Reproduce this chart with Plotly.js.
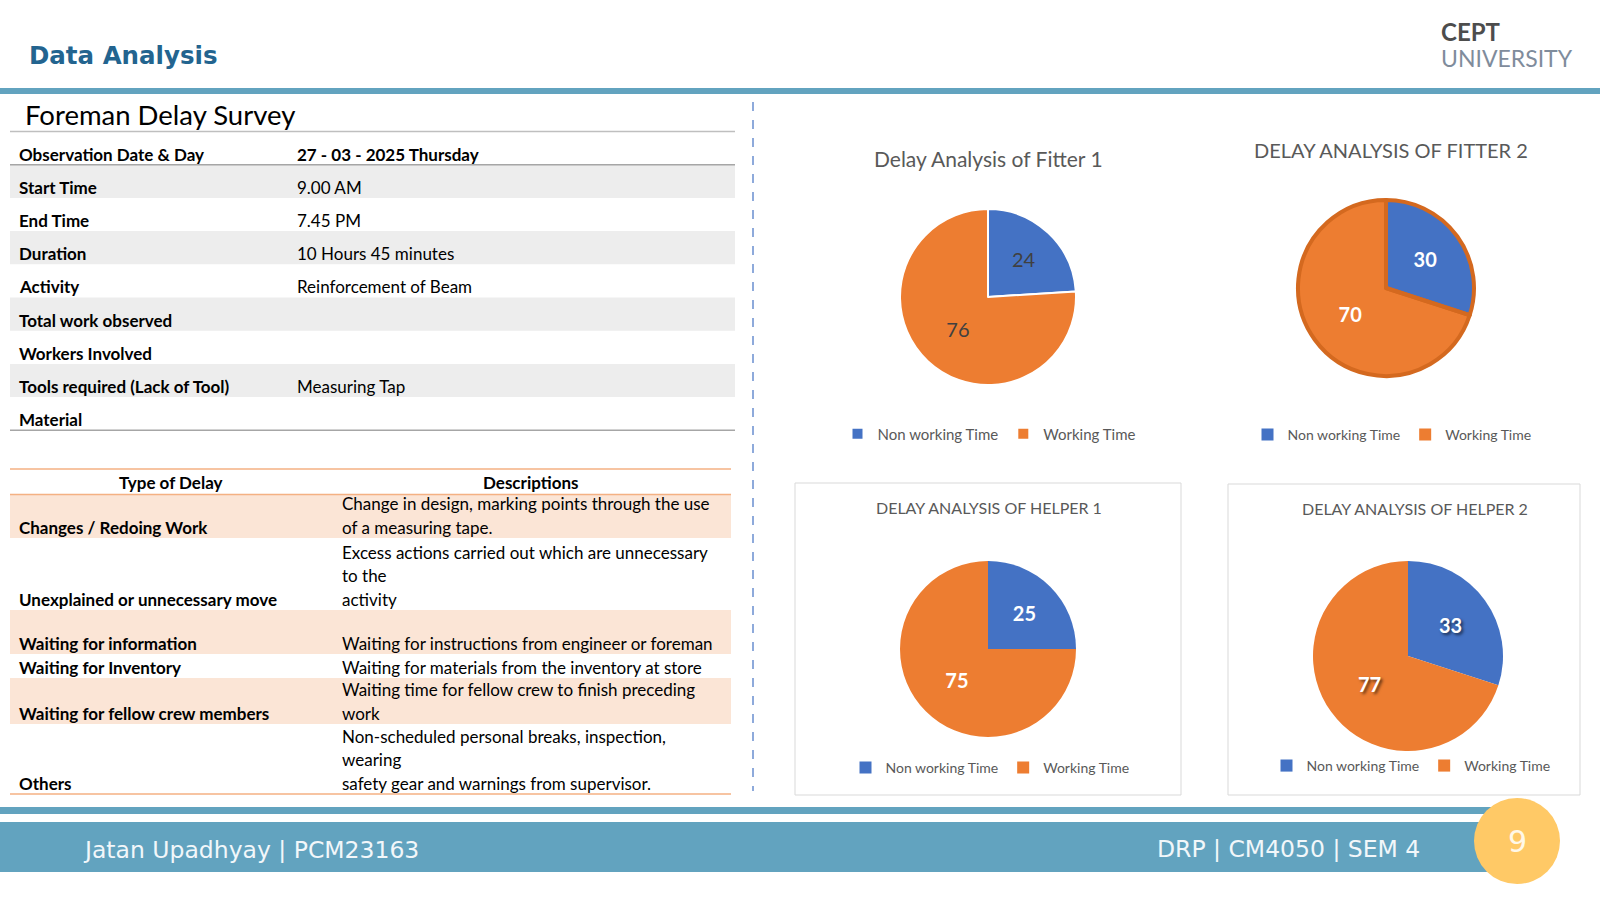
<!DOCTYPE html>
<html><head><meta charset="utf-8">
<script src="https://cdn.plot.ly/plotly-3.0.1.min.js"></script>
<style>html,body{margin:0;padding:0;background:#fff;overflow:hidden}#chart{width:1600px;height:900px}</style>
</head><body><div id="chart"></div>
<script>
// ---------- DATA ----------
const pieLabels = ['Non working Time', 'Working Time'];
const fitter1Values = [24, 76];
const fitter2Values = [30, 70];
const helper1Values = [25, 75];
const helper2Values = [33, 77];
const pieTitles = ['Delay Analysis of Fitter 1', 'DELAY ANALYSIS OF FITTER 2', 'DELAY ANALYSIS OF HELPER 1', 'DELAY ANALYSIS OF HELPER 2'];

const surveyFields = ['Observation Date & Day', 'Start Time', 'End Time', 'Duration', 'Activity', 'Total work observed', 'Workers Involved', 'Tools required (Lack of Tool)', 'Material'];
const surveyValues = ['27 - 03 - 2025 Thursday', '9.00 AM', '7.45 PM', '10 Hours 45 minutes', 'Reinforcement of Beam', '', '', 'Measuring Tap', ''];

const delayHeaders = ['Type of Delay', 'Descriptions'];
const delayTypes = ['Changes / Redoing Work', 'Unexplained or unnecessary move', 'Waiting for information', 'Waiting for Inventory', 'Waiting for fellow crew members', 'Others'];
const delayDescriptions = [
  ['Change in design, marking points through the use', 'of a measuring tape.'],
  ['Excess actions carried out which are unnecessary', 'to the', 'activity'],
  ['Waiting for instructions from engineer or foreman'],
  ['Waiting for materials from the inventory at store'],
  ['Waiting time for fellow crew to finish preceding', 'work'],
  ['Non-scheduled personal breaks, inspection,', 'wearing', 'safety gear and warnings from supervisor.']
];

const slideTitle = 'Data Analysis';
const sectionTitle = 'Foreman Delay Survey';
const logoTop = 'CEPT';
const logoBottom = 'UNIVERSITY';
const footerLeft = 'Jatan Upadhyay | PCM23163';
const footerRight = 'DRP | CM4050 | SEM 4';
const pageNumber = '9';

// ---------- LAYOUT HELPERS ----------
const W = 1600, H = 900;
const X = x => x / W, Y = y => 1 - y / H;
const shapes = [], annotations = [];
const FONT = 'Lato, Carlito, "Liberation Sans", sans-serif';
const SANS = '"DejaVu Sans", Verdana, sans-serif';
function txt(x, y, text, font, opts) {
  annotations.push(Object.assign({xref: 'paper', yref: 'paper', x: X(x), y: Y(y), text: text, showarrow: false,
    xanchor: 'left', yanchor: 'middle', borderpad: 0, font: Object.assign({family: FONT, size: 17, color: '#000'}, font || {})}, opts || {}));
}
function rect(x0, y0, x1, y1, fill, line) {
  shapes.push({type: 'rect', xref: 'paper', yref: 'paper', x0: X(x0), x1: X(x1), y0: Y(y1), y1: Y(y0),
    fillcolor: fill, line: line || {width: 0}, layer: 'below'});
}
function line(x0, y0, x1, y1, color, width, dash) {
  shapes.push({type: 'line', xref: 'paper', yref: 'paper', x0: X(x0), x1: X(x1), y0: Y(y0), y1: Y(y1),
    line: {color: color, width: width, dash: dash || 'solid'}, layer: 'below'});
}

// ---------- HEADER ----------
txt(28, 56, '<b>' + slideTitle + '</b>', {family: SANS, size: 24.5, color: '#23648F'});
rect(0, 88, 1600, 94, '#62A3BF');
txt(1440, 31.5, '<b>' + logoTop + '</b>', {family: FONT, size: 24, color: '#4D4D4D'});
txt(1440, 58.5, logoBottom, {family: FONT, size: 23, color: '#7F8C9C'});

// ---------- SURVEY TABLE ----------
txt(24, 114, sectionTitle, {size: 27.5, color: '#000'});
const t1Top = 131.5, t1Row = 33.2, t1Left = 10, t1Right = 735;
surveyFields.forEach((f, i) => {
  const top = t1Top + i * t1Row;
  if (i % 2 === 1) rect(t1Left, top, t1Right, top + t1Row, '#EDEDED');
  txt(18, top + 22.5, '<b>' + f + '</b>');
  if (surveyValues[i]) txt(296, top + 22.5, i === 0 ? '<b>' + surveyValues[i] + '</b>' : surveyValues[i]);
});
line(t1Left, t1Top, t1Right, t1Top, '#BFBFBF', 1.5);
line(t1Left, t1Top + t1Row, t1Right, t1Top + t1Row, '#A6A6A6', 1.5);
line(t1Left, t1Top + 9 * t1Row, t1Right, t1Top + 9 * t1Row, '#A6A6A6', 1.5);

// ---------- DELAY TYPES TABLE ----------
const t2Left = 10, t2Right = 731;
const t2Rows = [[495, 538], [538, 610], [610, 654], [654, 678], [678, 724], [724, 794]];
t2Rows.forEach((r, i) => { if (i % 2 === 0) rect(t2Left, r[0], t2Right, r[1], '#FBE5D6'); });
line(t2Left, 469, t2Right, 469, '#F4B183', 1.5);
line(t2Left, 494.5, t2Right, 494.5, '#F4B183', 1.5);
line(t2Left, 794, t2Right, 794, '#F4B183', 1.5);
txt(171, 482, '<b>' + delayHeaders[0] + '</b>', {}, {xanchor: 'center'});
txt(531, 482, '<b>' + delayHeaders[1] + '</b>', {}, {xanchor: 'center'});
delayTypes.forEach((d, i) => {
  const base = t2Rows[i][1] - 10.5;
  txt(18, base, '<b>' + d + '</b>');
  const lines = delayDescriptions[i];
  lines.forEach((l, j) => txt(341, base - (lines.length - 1 - j) * 23.6, l));
});

// divider
line(753, 102, 753, 791, '#4472C4', 1.2, 'dash');

// ---------- HELPER BOXES ----------
rect(795, 483, 1181, 795, '#FFFFFF', {color: '#D9D9D9', width: 1});
rect(1228, 484, 1580, 795, '#FFFFFF', {color: '#D9D9D9', width: 1});

// ---------- PIES ----------
const pieGeom = [
  {cx: 988, cy: 297, r: 88}, {cx: 1386, cy: 288, r: 88},
  {cx: 988, cy: 649, r: 88}, {cx: 1408, cy: 656, r: 95}
];
const pieValues = [fitter1Values, fitter2Values, helper1Values, helper2Values];
const legendNames = ['legend', 'legend2', 'legend3', 'legend4'];
const textStyles = [
  {family: FONT, size: 20, color: '#404040'},
  {family: FONT, size: 20, color: '#FFFFFF', weight: 'bold'},
  {family: FONT, size: 20, color: '#FFFFFF', weight: 'bold'},
  {family: FONT, size: 20, color: '#FFFFFF', weight: 'bold', shadow: '2px 2px 3px rgba(0,0,0,0.6)'}
];
const lineStyles = [{color: '#FFFFFF', width: 2}, {color: '#FFFFFF', width: 0}, {color: '#FFFFFF', width: 0}, {color: '#FFFFFF', width: 0}];
const domainOf = g => ({x: [X(g.cx - g.r), X(g.cx + g.r)], y: [Y(g.cy + g.r), Y(g.cy - g.r)]});
const traces = pieValues.map((v, i) => ({
  type: 'pie',
  // invisible zero-width suffix keeps each chart's legend entries distinct
  labels: pieLabels.map(l => l + '\u200b'.repeat(i)),
  values: v, sort: false, direction: 'clockwise', rotation: 0,
  marker: {colors: ['#4472C4', '#ED7D31'], line: lineStyles[i]},
  textinfo: 'value', textposition: 'inside', insidetextorientation: 'horizontal',
  textfont: textStyles[i], hoverinfo: 'label+value', legend: legendNames[i],
  domain: domainOf(pieGeom[i])
}));
// Fitter 2: darker orange bevel outline drawn as an overlay of the same data
traces.push({
  type: 'pie', labels: pieLabels.map(l => l + '\u200b'.repeat(9)), values: fitter2Values,
  sort: false, direction: 'clockwise', rotation: 0, showlegend: false,
  marker: {colors: ['rgba(0,0,0,0)', 'rgba(0,0,0,0)'], line: {color: '#D4691F', width: 4}},
  textinfo: 'none', hoverinfo: 'skip', domain: domainOf(pieGeom[1])
});

// pie titles
txt(988, 158, pieTitles[0], {size: 21, color: '#595959'}, {xanchor: 'center'});
txt(1391, 150, pieTitles[1], {size: 20, color: '#595959'}, {xanchor: 'center'});
txt(989, 507, pieTitles[2], {size: 16, color: '#595959'}, {xanchor: 'center'});
txt(1415, 508, pieTitles[3], {size: 16, color: '#595959'}, {xanchor: 'center'});

// ---------- FOOTER ----------
rect(0, 807, 1500, 814, '#62A3BF');
rect(0, 822, 1500, 872, '#62A3BF');
shapes.push({type: 'circle', xref: 'paper', yref: 'paper', x0: X(1474), x1: X(1560), y0: Y(884), y1: Y(798),
  fillcolor: '#FFC966', line: {width: 0}, layer: 'below'});
txt(82, 850, footerLeft, {family: SANS, size: 23.5, color: '#F2F7FA'});
txt(1421, 849, footerRight, {family: SANS, size: 23.5, color: '#F2F7FA'}, {xanchor: 'right'});
txt(1517, 841, pageNumber, {family: SANS, size: 30, color: '#FFF8E8'}, {xanchor: 'center'});

function leg(x, y, size) {
  return {orientation: 'h', x: X(x), y: Y(y), xanchor: 'center', yanchor: 'middle', bgcolor: 'rgba(0,0,0,0)',
    font: {family: FONT, size: size, color: '#595959'}, itemwidth: 30, itemclick: false, itemdoubleclick: false};
}

const layout = {
  width: W, height: H, autosize: false, margin: {l: 0, r: 0, t: 0, b: 0, pad: 0},
  paper_bgcolor: '#FFFFFF', plot_bgcolor: '#FFFFFF', showlegend: true,
  font: {family: FONT},
  legend: leg(989, 434, 15), legend2: leg(1392, 435, 14), legend3: leg(990, 768, 14), legend4: leg(1411, 766, 14),
  shapes: shapes, annotations: annotations
};
Plotly.newPlot('chart', traces, layout, {displayModeBar: false});
</script></body></html>
